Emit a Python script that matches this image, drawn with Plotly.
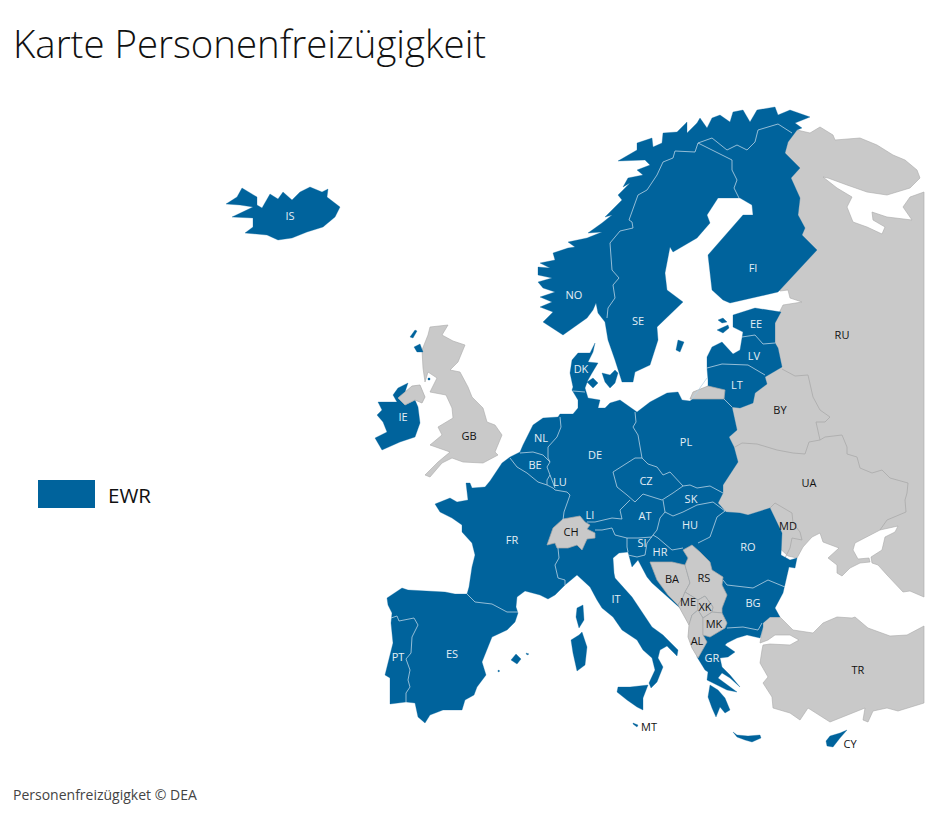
import plotly.graph_objects as go

# --- colours ---
BLUE = '#00639C'
GRAY = '#C9C9C9'
GRAY_LINE = '#A9A9A9'
BORDER_LIGHT = '#B9D3E4'

# --- outlines (map units = picture pixels) ---
EAST = [(797,130),(810,133),(820,127),(833,135),(835,140),(860,138),(877,145),(893,155),(905,160),(917,170),(920,178),
        (910,188),(887,195),(867,192),(847,185),(828,178),(823,177),(837,188),(852,197),(847,207),(853,222),(867,227),
        (882,234),(885,227),(873,220),(872,212),(887,217),(912,220),(903,207),(910,197),(924,192),(924,597),(910,591),
        (903,592),(887,575),(878,565),(872,563),(871,557),(882,550),(885,537),(895,532),(898,526),(880,530),(867,537),
        (855,543),(853,550),(858,559),(869,558),(870,562),(860,563),(850,568),(842,576),(837,573),(837,565),(828,558),
        (839,548),(823,542),(820,533),(812,537),(803,547),(797,558),(788,556),(776,545),(772,520),(760,518),(730,516),
        (712,503),(718,485),(732,460),(727,447),(724,437),(732,430),(728,410),(745,400),(760,378),(770,320),(777,317),
        (783,305),(802,302),(790,298),(788,290),(780,291),(770,270),(780,200),(785,140)]
TURKEY = [(770,617),(780,617),(793,630),(813,633),(823,623),(837,617),(852,618),(855,617),(868,628),(890,636),(907,635),
          (924,626),(924,703),(898,711),(887,708),(873,711),(868,722),(863,720),(865,708),(847,715),(830,722),(808,708),
          (800,720),(790,713),(773,708),(772,697),(763,683),(768,677),(760,663),(762,650),(763,645),(770,644),(790,645),
          (799,640),(790,635),(775,635),(768,640),(760,643),(762,632),(762,623)]
BRITAIN = [(448,325),(442,335),(453,341),(465,345),(458,362),(450,370),(460,372),(468,387),(472,397),(483,408),(487,422),
           (495,425),(502,435),(495,452),(498,455),(483,463),(463,462),(452,458),(442,463),(430,477),(425,475),(438,462),
           (450,452),(430,445),(442,435),(438,427),(453,418),(452,408),(446,395),(430,392),(437,378),(428,372),(425,382),
           (423,368),(422,350),(428,335),(430,327)]
N_IRELAND = [(398,398),(412,386),(420,385),(425,397),(422,403),(415,400),(405,405)]
KALININGRAD = [(708,386),(725,390),(724,399),(690,399),(693,392),(703,388)]
SWITZERLAND = [(547,545),(553,528),(563,519),(580,516),(585,522),(590,525),(587,529),(595,533),(595,538),(587,539),
               (582,550),(577,545),(568,548),(557,548),(555,543)]
BOSNIA = [(650,562),(672,562),(685,565),(690,583),(685,592),(683,597),(678,605),(668,595),(657,580)]
SERBIA = [(683,550),(692,545),(700,552),(710,562),(712,570),(723,577),(722,585),(727,595),(722,608),(722,613),(712,612),
          (713,607),(705,596),(698,600),(685,592),(690,583),(685,565),(688,558)]
MONTENEGRO = [(685,592),(698,600),(698,610),(692,615),(689,625),(680,608),(678,605),(683,597)]
KOSOVO = [(698,600),(705,596),(713,607),(712,612),(703,618),(698,610)]
ALBANIA = [(692,615),(698,610),(703,618),(703,635),(707,642),(698,658),(692,648),(688,637),(689,625)]
MACEDONIA = [(703,618),(712,612),(722,613),(727,623),(725,628),(710,637),(703,635)]

CONTINENT = [(387,598),(402,588),(408,590),(445,592),(455,594),(467,594),(469,587),(472,567),(475,555),(472,543),(462,532),
             (462,525),(452,518),(440,512),(435,504),(450,498),(457,502),(468,500),(466,483),(470,483),(472,488),(485,487),
             (490,481),(502,463),(510,457),(520,452),(523,445),(533,425),(543,418),(558,417),(560,414),(573,414),(578,408),
             (578,400),(572,390),(573,387),(570,373),(572,360),(578,353),(590,353),(595,343),(593,352),(588,362),(598,363),
             (592,373),(588,380),(585,388),(588,398),(600,400),(598,408),(605,408),(610,403),(620,400),(632,408),(637,412),
             (650,402),(667,393),(678,392),(682,400),(690,401),(708,386),(708,380),(707,368),(707,357),(712,347),(722,342),
             (733,354),(740,350),(742,337),(743,332),(733,327),(733,315),(755,308),(781,312),(775,323),(775,343),(778,348),
             (782,367),(765,377),(767,384),(755,393),(753,403),(740,408),(732,407),(737,430),(729,437),(734,447),(738,462),
             (723,485),(723,493),(718,503),(726,512),(740,513),(748,515),(770,508),(777,523),(782,533),(781,555),(790,560),
             (797,558),(795,568),(789,567),(785,583),(783,593),(775,608),(780,617),(770,617),(763,623),(763,627),(760,638),
             (747,635),(737,638),(727,643),(725,645),(735,652),(728,657),(720,658),(722,667),(730,675),(740,687),(730,678),
             (722,673),(718,678),(725,683),(737,692),(727,690),(713,683),(707,680),(708,672),(705,670),(697,657),(697,645),
             (695,630),(688,615),(680,608),(663,593),(652,583),(647,577),(638,560),(632,567),(628,552),(619,553),(613,558),
             (614,573),(615,578),(632,597),(643,613),(652,627),(663,635),(678,650),(677,656),(667,646),(660,650),(658,658),
             (663,667),(657,682),(651,688),(649,683),(655,670),(652,658),(643,650),(637,640),(622,630),(613,617),(602,608),
             (597,600),(590,587),(577,575),(565,585),(555,595),(548,599),(540,595),(525,591),(517,597),(516,607),(518,613),
             (515,622),(507,630),(492,637),(482,662),(486,675),(477,687),(474,695),(465,700),(462,710),(443,710),(430,715),
             (425,723),(418,717),(415,703),(406,702),(390,704),(390,687),(390,678),(385,675),(388,663),(393,643),(391,623),
             (392,613),(388,605)]
SCANDINAVIA = [(563,335),(543,322),(553,312),(540,307),(552,302),(540,297),(555,292),(543,288),(538,282),(552,278),(538,275),
               (538,267),(550,268),(540,263),(555,260),(553,253),(568,248),(575,247),(568,242),(587,238),(602,232),(588,233),
               (602,223),(612,215),(605,217),(615,207),(622,200),(618,195),(630,183),(623,187),(628,178),(643,175),(637,170),
               (650,165),(645,160),(618,161),(637,150),(637,143),(652,138),(653,147),(662,143),(663,133),(677,132),(687,122),
               (687,133),(697,123),(700,118),(707,128),(712,118),(720,115),(730,122),(733,112),(743,110),(750,122),(757,110),
               (775,107),(778,115),(790,110),(810,117),(795,123),(802,128),(797,130),(788,142),(785,153),(800,168),(791,178),
               (800,198),(798,215),(805,228),(802,235),(817,250),(778,292),(730,303),(723,300),(712,290),(708,255),(727,233),
               (743,215),(753,215),(752,205),(740,198),(718,198),(707,215),(710,223),(697,238),(673,252),(670,247),(667,263),
               (665,273),(667,290),(683,302),(657,327),(658,340),(650,365),(635,372),(633,382),(622,382),(615,360),(608,340),
               (605,322),(598,313),(596,303),(593,310),(587,318)]
ICELAND = [(226,204),(237,197),(242,188),(257,197),(257,205),(262,208),(270,194),(278,199),(283,192),(292,200),(300,192),
           (310,187),(322,192),(328,189),(327,197),(340,207),(335,217),(323,227),(307,232),(292,238),(278,240),(267,235),
           (245,233),(253,227),(253,218),(232,217),(253,207),(240,205)]
IRELAND = [(378,402),(397,402),(393,395),(398,388),(408,383),(405,392),(398,398),(405,405),(415,400),(418,407),(420,423),
           (415,437),(400,442),(382,450),(375,438),(387,432),(383,422),(377,415),(382,410)]
PELOPONNESE = [(710,685),(718,690),(725,698),(730,710),(725,713),(720,707),(716,717),(712,708),(708,697)]
CRETE = [(733,732),(737,735),(748,736),(760,735),(761,738),(752,742),(745,740),(737,737)]
CYPRUS = [(826,741),(830,736),(840,733),(847,730),(840,738),(833,747),(827,746)]
SICILY = [(617,692),(618,687),(630,687),(648,685),(643,698),(643,710),(637,707),(627,700)]
MALTA = [(633,723),(638,725),(637,727),(633,724)]
SARDINIA = [(582,632),(587,647),(585,665),(577,671),(573,653),(571,640),(579,635)]
CORSICA = [(583,605),(584,620),(579,628),(576,617),(577,608)]
MALLORCA = [(516,654),(521,659),(517,664),(511,660)]
MENORCA = [(526,653),(529,654),(527,655)]
IBIZA = [(498,670),(500,671),(498,672)]
SAAREMAA = [(717,330),(728,325),(729,328),(723,333)]
HIIUMAA = [(718,320),(723,318),(727,322),(722,323)]
GOTLAND = [(678,340),(684,342),(680,352),(676,350)]
ZEALAND = [(602,373),(610,375),(615,370),(618,373),(615,383),(610,388),(605,382)]
FUNEN = [(587,382),(593,378),(598,383),(593,388)]
HEBRIDES_N = [(410,337),(415,330),(417,331),(413,338)]
HEBRIDES_S = [(414,347),(420,344),(423,352),(417,352)]
ISLE_OF_MAN = [(428,378),(430,378),(430,380),(428,380)]

# --- borders between EEA countries ---
LIGHT_BORDERS = [
    [(467,594),(475,602),(492,604),(507,612),(518,612)],
    [(391,618),(397,616),(399,621),(414,618),(418,625),(412,637),(411,653),(406,659),(410,670),(408,680),(410,687),(406,693),(406,702)],
    [(558,548),(559,558),(555,565),(558,578),(565,580),(565,585)],
    [(563,520),(564,512),(570,495),(567,492),(555,490),(553,488),(547,485),(538,482),(527,473),(517,467),(510,458)],
    [(520,453),(533,452),(543,455),(550,462),(547,467),(550,475),(547,480),(547,485)],
    [(550,475),(553,482),(555,488)],
    [(560,417),(561,427),(557,437),(548,447),(548,458),(550,462)],
    [(573,391),(585,392)],
    [(635,412),(636,422),(633,427),(638,435),(642,458),(635,458),(613,472),(617,487),(627,495),(635,502),(643,494),(662,500),(673,493),(683,486),(670,472),(663,475),(657,467),(648,464),(642,458)],
    [(683,486),(690,485),(697,488),(710,486),(723,493)],
    [(663,500),(665,512),(673,516),(683,512),(697,505),(713,502),(725,511)],
    [(665,512),(660,518),(657,530),(653,535)],
    [(630,500),(620,510),(622,519),(612,518),(595,522),(587,522)],
    [(595,530),(602,530),(612,528),(615,535),(627,538),(638,538),(652,537)],
    [(627,538),(627,547),(628,552)],
    [(653,535),(647,543),(645,555),(637,557),(628,555)],
    [(653,535),(658,538),(672,550),(683,548)],
    [(725,511),(717,517),(710,537),(698,543)],
    [(723,580),(727,585),(753,588),(768,580),(785,587)],
    [(727,628),(743,627),(758,630),(762,623)],
    [(707,368),(722,364),(748,365),(765,375)],
    [(742,337),(755,335),(763,344),(775,343)],
    [(724,399),(732,407)],
    [(707,378),(692,399)],
    [(607,318),(608,308),(615,298),(613,285),(619,278),(612,270),(610,243),(620,231),(633,228),(632,222),(629,220),(638,195),(647,190),(657,175),(663,162),(673,158),(675,151),(695,152),(698,143)],
    [(698,143),(732,160),(732,170),(737,180),(734,188),(739,198)],
    [(698,143),(712,138),(727,150),(737,145),(747,150),(755,142),(758,130),(778,124),(792,133)],
]
# --- borders between the other countries ---
GRAY_BORDERS = [
    [(782,369),(795,376),(808,375),(811,390),(813,397),(820,410),(830,417),(825,422),(816,422),(820,440)],
    [(735,447),(742,443),(757,444),(777,450),(793,453),(805,454),(809,442),(820,440)],
    [(820,440),(825,437),(842,435),(847,447),(847,454),(857,457),(860,468),(872,473),(882,470),(890,478),(908,483),(907,493),(905,500),(906,512),(887,520),(880,530)],
    [(770,508),(775,503),(792,513),(793,523),(800,532),(802,540),(792,538),(790,548),(785,558)],
]

GRAY_SHAPES = [EAST, TURKEY, BRITAIN]
BLUE_SHAPES = [CONTINENT, SCANDINAVIA, ICELAND, IRELAND, PELOPONNESE, CRETE, CYPRUS, SICILY, MALTA, SARDINIA, CORSICA,
               MALLORCA, MENORCA, IBIZA, SAAREMAA, HIIUMAA, GOTLAND, ZEALAND, FUNEN, HEBRIDES_N, HEBRIDES_S, ISLE_OF_MAN]
GRAY_ON_TOP = [N_IRELAND, KALININGRAD, SWITZERLAND, BOSNIA, SERBIA, MONTENEGRO, KOSOVO, ALBANIA, MACEDONIA]

# --- country codes ---
EEA_CODES = ['IS','NO','SE','FI','EE','LV','LT','DK','IE','NL','BE','LU','DE','PL','CZ','SK','AT','HU','RO','SI','HR','LI',
             'FR','ES','PT','IT','BG','GR']
EEA_X = [290,574,638,753,756,754,737,581,403,541,535,560,595,686,646,691,645,690,748,642,660,590,512,452,398,616,753,712]
EEA_Y = [217,296,322,269,325,357,386,370,418,439,466,483,456,443,482,500,517,526,548,544,553,516,541,655,658,600,604,659]
OTHER_CODES = ['GB','CH','BA','RS','ME','XK','MK','AL','MD','BY','UA','RU','TR','MT','CY']
OTHER_X = [469,571,672,704,688,705,714,697,788,780,809,842,858,649,850]
OTHER_Y = [437,533,580,579,603,608,625,642,527,411,484,336,671,728,745]

FONT = 'Open Sans'


def add_shape(fig, pts, fill, line_color, line_width):
    xs = [p[0] for p in pts] + [pts[0][0]]
    ys = [p[1] for p in pts] + [pts[0][1]]
    fig.add_trace(go.Scatter(x=xs, y=ys, mode='lines', fill='toself', fillcolor=fill,
                             line=dict(color=line_color, width=line_width), hoverinfo='skip'))


def add_line(fig, pts, color, width):
    fig.add_trace(go.Scatter(x=[p[0] for p in pts], y=[p[1] for p in pts], mode='lines',
                             line=dict(color=color, width=width), hoverinfo='skip'))


fig = go.Figure()
for s in GRAY_SHAPES:
    add_shape(fig, s, GRAY, GRAY_LINE, 0.6)
for b in GRAY_BORDERS:
    add_line(fig, b, GRAY_LINE, 0.8)
for s in BLUE_SHAPES:
    add_shape(fig, s, BLUE, BLUE, 0.3)
for s in GRAY_ON_TOP:
    add_shape(fig, s, GRAY, GRAY_LINE, 0.7)
for b in LIGHT_BORDERS:
    add_line(fig, b, BORDER_LIGHT, 0.8)

fig.add_trace(go.Scatter(x=EEA_X, y=EEA_Y, text=EEA_CODES, mode='text', hoverinfo='skip',
                         textfont=dict(family=FONT, size=11, color='#E4EEF5')))
fig.add_trace(go.Scatter(x=OTHER_X, y=OTHER_Y, text=OTHER_CODES, mode='text', hoverinfo='skip',
                         textfont=dict(family=FONT, size=11, color='#111111')))

# legend swatch and the texts around the map
fig.add_shape(type='rect', x0=38, x1=95, y0=480, y1=508, fillcolor=BLUE, line_width=0, layer='below')
fig.add_annotation(x=106, y=495, text='EWR', showarrow=False, xanchor='left',
                   font=dict(family=FONT, size=20.5, color='#111111'))
fig.add_annotation(x=10.5, y=43, text='Karte Personenfreizügigkeit', showarrow=False, xanchor='left',
                   font=dict(family=FONT, size=38.4, color='#111111', weight=300))
fig.add_annotation(x=11, y=794, text='Personenfreizügigket © DEA', showarrow=False, xanchor='left',
                   font=dict(family=FONT, size=14, color='#444444'))

# the page has 8px of body margin, so axes run 8..928 to stay in picture pixels
fig.update_layout(width=920, height=800, margin=dict(l=0, r=0, t=0, b=0), showlegend=False,
                  plot_bgcolor='white', paper_bgcolor='white')
fig.update_xaxes(range=[8, 928], visible=False)
fig.update_yaxes(range=[808, 8], visible=False)

fig.write_html("out.html")
